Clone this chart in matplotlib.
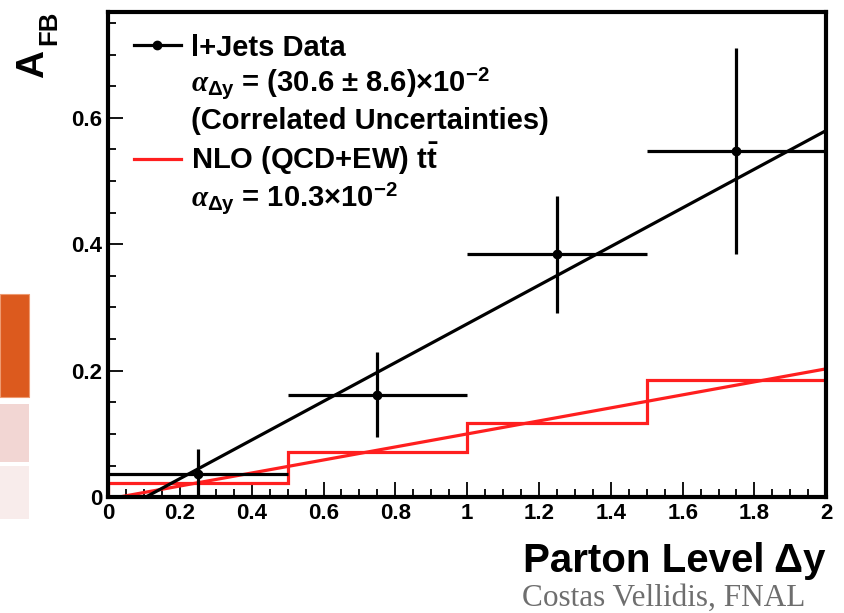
import numpy as np
import matplotlib
matplotlib.use("Agg")
import matplotlib.pyplot as plt
from matplotlib.lines import Line2D
from matplotlib.patches import Rectangle

bin_centers = [0.25, 0.75, 1.25, 1.75]
bin_halfwidth = [0.25, 0.25, 0.25, 0.25]
afb_data = [0.036, 0.162, 0.384, 0.548]
afb_data_err = [0.040, 0.067, 0.092, 0.163]

# NLO prediction (histogram)
bin_edges = [0.0, 0.5, 1.0, 1.5, 2.0]
afb_nlo = [0.022, 0.071, 0.118, 0.185]

# linear fits: slope, intercept
fit_data = [0.306, -0.032]
fit_nlo = [0.103, -0.003]

plt.rcParams['font.family'] = ['Liberation Sans', 'DejaVu Sans']
plt.rcParams['font.weight'] = 'bold'
plt.rcParams['mathtext.fontset'] = 'custom'
plt.rcParams['mathtext.rm'] = 'Liberation Sans:weight=bold'
plt.rcParams['mathtext.bf'] = 'Liberation Sans:weight=bold'
plt.rcParams['mathtext.it'] = 'Liberation Serif:italic'

black = '#000000'
red = '#ff1f1f'

fig = plt.figure(figsize=(8.44, 6.13), dpi=100)
ax = fig.add_axes([0.128, 0.189, 0.851, 0.791])

xx = np.array([0.0, 2.0])
ax.plot(xx, fit_nlo[0] * xx + fit_nlo[1], color=red, lw=2.3, zorder=2)
ax.stairs(afb_nlo, bin_edges, baseline=0, color=red, lw=2.3, zorder=2)
ax.plot(xx, fit_data[0] * xx + fit_data[1], color=black, lw=2.3, zorder=3)
ax.errorbar(bin_centers, afb_data, xerr=bin_halfwidth, yerr=afb_data_err,
            fmt='o', color=black, ms=6, elinewidth=2.3, capsize=0, zorder=4)

ax.set_xlim(0, 2)
ax.set_ylim(0, 0.767)
ax.set_xticks(np.arange(0, 2.01, 0.2))
ax.set_xticks(np.arange(0, 2.01, 0.05), minor=True)
ax.set_yticks([0, 0.2, 0.4, 0.6])
ax.set_yticks(np.arange(0, 0.76, 0.05), minor=True)
ax.set_xticklabels(['0', '0.2', '0.4', '0.6', '0.8', '1', '1.2', '1.4', '1.6', '1.8', '2'])
ax.set_yticklabels(['0', '0.2', '0.4', '0.6'])
ax.tick_params(which='both', direction='in', top=False, right=False, labelsize=16)
ax.tick_params(which='major', length=11, width=1.3)
ax.tick_params(which='minor', length=5.5, width=1.3)
ax.tick_params(axis='x', pad=4)
ax.tick_params(axis='y', pad=4)
for s in ax.spines.values():
    s.set_linewidth(3)
    s.set_zorder(5)

handles = [
    Line2D([], [], color=black, marker='o', ms=6, lw=2.3),
    Line2D([], [], linestyle='none'),
    Line2D([], [], linestyle='none'),
    Line2D([], [], color=red, lw=2.3),
    Line2D([], [], linestyle='none'),
]
labels = [
    'l+Jets Data',
    r'$\alpha_{\Delta\mathbf{y}}$ = (30.6 $\pm$ 8.6)$\times$10$^{\mathbf{-2}}$',
    '(Correlated Uncertainties)',
    r'NLO (QCD+EW) t$\bar{\mathbf{t}}$',
    r'$\alpha_{\Delta\mathbf{y}}$ = 10.3$\times$10$^{\mathbf{-2}}$',
]
leg = ax.legend(handles, labels, loc='upper left', bbox_to_anchor=(0.02, 0.98),
                frameon=False, fontsize=21, handlelength=1.6, handletextpad=0.35,
                labelspacing=0.17, borderaxespad=0)

# y title: big A with a bold FB subscript, placed by baseline
fig.text(43 / 844, 1 - 78 / 613, 'A', rotation=90, rotation_mode='anchor',
         ha='left', va='baseline', fontsize=28, fontweight='bold')
fig.text(56 / 844, 1 - 45 / 613, 'FB', rotation=90, rotation_mode='anchor',
         ha='left', va='baseline', fontsize=18.5, fontweight='bold')
fig.text(0.9775, 0.0669, 'Parton Level Δy', ha='right', va='baseline',
         fontsize=29, fontweight='bold')
fig.text(0.954, 0.0114, 'Costas Vellidis, FNAL', ha='right', va='baseline',
         fontsize=22.5, family='Liberation Serif', fontweight='normal', color='#6e6e6e')

# slide decoration on the left edge
fig.patches.append(Rectangle((0, 1 - 397 / 613), 29 / 844, 103 / 613, transform=fig.transFigure,
                             facecolor='#dc5a1e', edgecolor='#ee9a70', lw=0.8))
fig.patches.append(Rectangle((0, 1 - 462 / 613), 29 / 844, 58 / 613, transform=fig.transFigure,
                             facecolor='#f2d6d3', edgecolor='none'))
fig.patches.append(Rectangle((0, 1 - 519 / 613), 29 / 844, 53 / 613, transform=fig.transFigure,
                             facecolor='#f8eceb', edgecolor='none'))

fig.savefig('out.png', dpi=100)
